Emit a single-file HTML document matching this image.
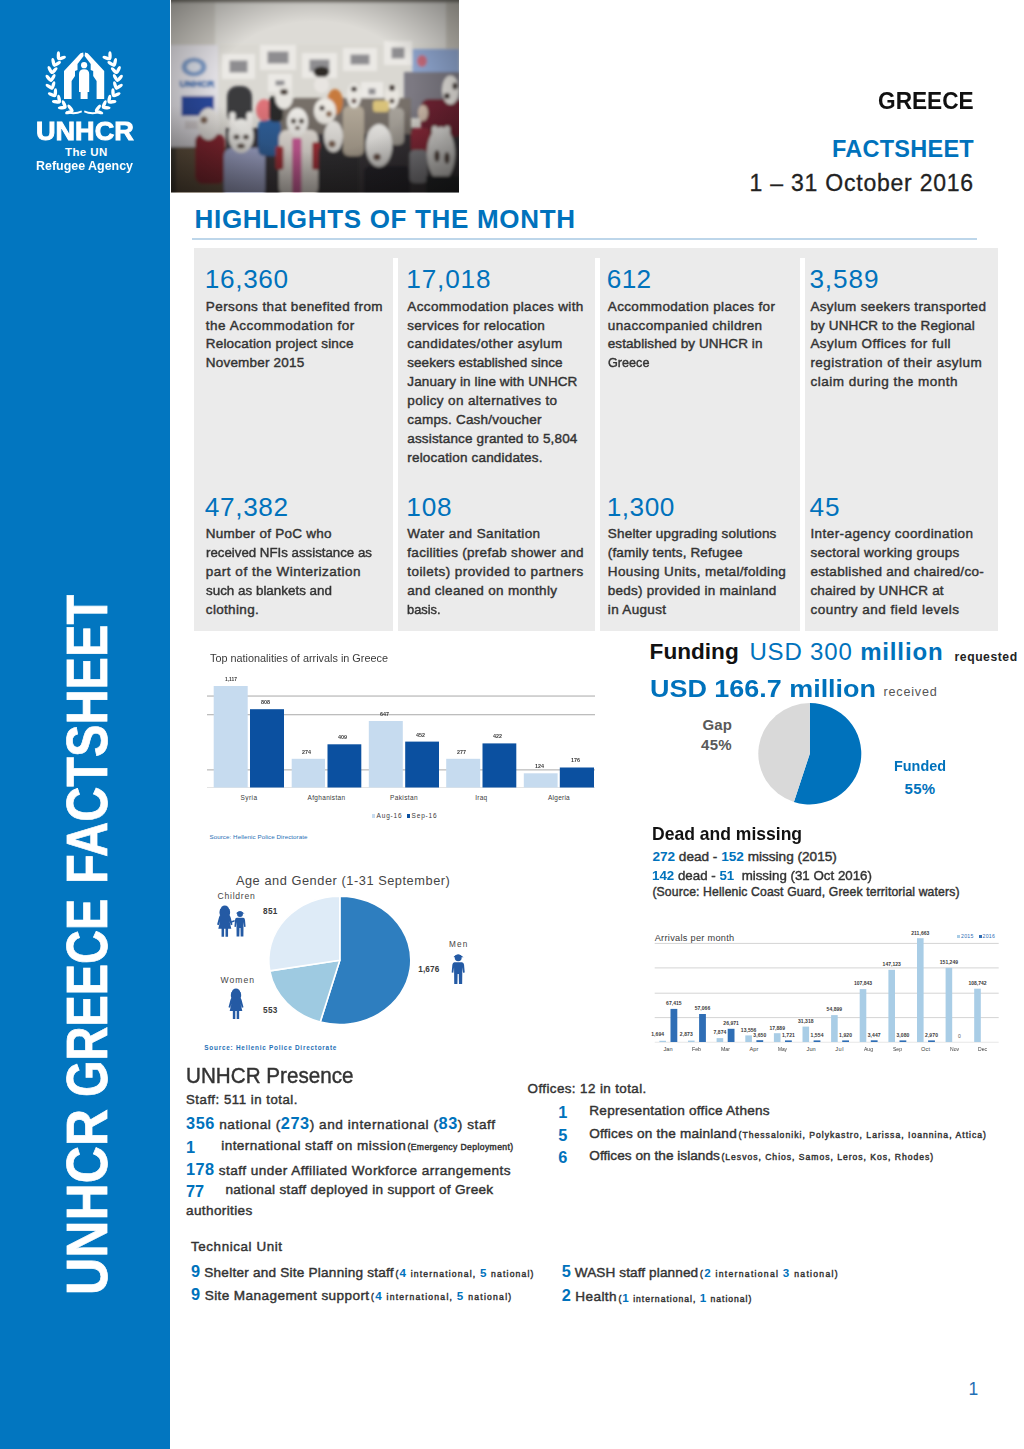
<!DOCTYPE html>
<html lang="en">
<head>
<meta charset="utf-8">
<title>UNHCR Greece Factsheet</title>
<style>
html,body{margin:0;padding:0;background:#fff;}
body{width:1024px;height:1449px;overflow:hidden;font-family:"Liberation Sans",sans-serif;color:#222;}
#pg{position:relative;width:1024px;height:1449px;overflow:hidden;background:#fff;}
.t{position:absolute;white-space:pre;line-height:1;transform-origin:0 50%;}
.b{position:absolute;}
.n{color:#0072bc;font-weight:700;-webkit-text-stroke:0;}
.k{-webkit-text-stroke:0.42px;}
.s{font-size:0.62em;}
svg{position:absolute;overflow:visible;}
</style>
</head>
<body>
<div id="pg">
<div class="b" style="left:0;top:0;width:170px;height:1449px;background:#0276c0"></div>
<div class="b" style="left:108.2px;top:1294.5px;width:0;height:0;transform-origin:0 0;transform:rotate(-90deg) scaleX(0.912);white-space:pre;font-weight:700;font-size:56.5px;line-height:1;color:#fff;-webkit-text-stroke:0.7px #fff;"><span style="position:relative;top:-47.8px;">UNHCR</span></div>
<div class="b" style="left:108.2px;top:1096.5px;width:0;height:0;transform-origin:0 0;transform:rotate(-90deg) scaleX(0.831);white-space:pre;font-weight:700;font-size:56.5px;line-height:1;color:#fff;-webkit-text-stroke:0.7px #fff;"><span style="position:relative;top:-47.8px;">GREECE</span></div>
<div class="b" style="left:108.2px;top:883.5px;width:0;height:0;transform-origin:0 0;transform:rotate(-90deg) scaleX(0.861);white-space:pre;font-weight:700;font-size:56.5px;line-height:1;color:#fff;-webkit-text-stroke:0.7px #fff;"><span style="position:relative;top:-47.8px;">FACTSHEET</span></div>
<div class="b" style="left:192.4px;top:237.6px;width:785px;height:2px;background:#bdd6ea"></div>
<div class="b" style="left:193.8px;top:248.4px;width:804.2px;height:383px;background:#ebebeb"></div>
<div class="b" style="left:393px;top:258px;width:5px;height:374px;background:#fff"></div>
<div class="b" style="left:595px;top:258px;width:5px;height:374px;background:#fff"></div>
<div class="b" style="left:800px;top:258px;width:5px;height:374px;background:#fff"></div>
<svg style="left:0;top:0" width="170" height="180" viewBox="0 0 170 180"><g fill="#fff"><g><ellipse cx="69.3" cy="112.1" rx="4.3" ry="1.7" transform="rotate(-198 69.3 112.1)"/><ellipse cx="70.5" cy="108.2" rx="4.3" ry="1.7" transform="rotate(-128 70.5 108.2)"/><ellipse cx="62.1" cy="107.8" rx="4.3" ry="1.7" transform="rotate(-184 62.1 107.8)"/><ellipse cx="64.2" cy="104.2" rx="4.3" ry="1.7" transform="rotate(-114 64.2 104.2)"/><ellipse cx="56.2" cy="101.8" rx="4.3" ry="1.7" transform="rotate(-171 56.2 101.8)"/><ellipse cx="59.1" cy="98.9" rx="4.3" ry="1.7" transform="rotate(-101 59.1 98.9)"/><ellipse cx="51.9" cy="94.7" rx="4.3" ry="1.7" transform="rotate(-157 51.9 94.7)"/><ellipse cx="55.4" cy="92.5" rx="4.3" ry="1.7" transform="rotate(-87 55.4 92.5)"/><ellipse cx="49.3" cy="86.7" rx="4.3" ry="1.7" transform="rotate(-144 49.3 86.7)"/><ellipse cx="53.2" cy="85.4" rx="4.3" ry="1.7" transform="rotate(-74 53.2 85.4)"/><ellipse cx="48.7" cy="78.3" rx="4.3" ry="1.7" transform="rotate(-130 48.7 78.3)"/><ellipse cx="52.8" cy="78.0" rx="4.3" ry="1.7" transform="rotate(-60 52.8 78.0)"/><ellipse cx="50.1" cy="70.1" rx="4.3" ry="1.7" transform="rotate(-116 50.1 70.1)"/><ellipse cx="54.2" cy="70.7" rx="4.3" ry="1.7" transform="rotate(-46 54.2 70.7)"/><ellipse cx="53.4" cy="62.3" rx="4.3" ry="1.7" transform="rotate(-103 53.4 62.3)"/><ellipse cx="57.2" cy="63.9" rx="4.3" ry="1.7" transform="rotate(-33 57.2 63.9)"/><ellipse cx="58.4" cy="55.6" rx="4.3" ry="1.7" transform="rotate(-89 58.4 55.6)"/><ellipse cx="61.8" cy="58.1" rx="4.3" ry="1.7" transform="rotate(-19 61.8 58.1)"/></g><g transform="translate(168.4 0) scale(-1 1)"><ellipse cx="69.3" cy="112.1" rx="4.3" ry="1.7" transform="rotate(-198 69.3 112.1)"/><ellipse cx="70.5" cy="108.2" rx="4.3" ry="1.7" transform="rotate(-128 70.5 108.2)"/><ellipse cx="62.1" cy="107.8" rx="4.3" ry="1.7" transform="rotate(-184 62.1 107.8)"/><ellipse cx="64.2" cy="104.2" rx="4.3" ry="1.7" transform="rotate(-114 64.2 104.2)"/><ellipse cx="56.2" cy="101.8" rx="4.3" ry="1.7" transform="rotate(-171 56.2 101.8)"/><ellipse cx="59.1" cy="98.9" rx="4.3" ry="1.7" transform="rotate(-101 59.1 98.9)"/><ellipse cx="51.9" cy="94.7" rx="4.3" ry="1.7" transform="rotate(-157 51.9 94.7)"/><ellipse cx="55.4" cy="92.5" rx="4.3" ry="1.7" transform="rotate(-87 55.4 92.5)"/><ellipse cx="49.3" cy="86.7" rx="4.3" ry="1.7" transform="rotate(-144 49.3 86.7)"/><ellipse cx="53.2" cy="85.4" rx="4.3" ry="1.7" transform="rotate(-74 53.2 85.4)"/><ellipse cx="48.7" cy="78.3" rx="4.3" ry="1.7" transform="rotate(-130 48.7 78.3)"/><ellipse cx="52.8" cy="78.0" rx="4.3" ry="1.7" transform="rotate(-60 52.8 78.0)"/><ellipse cx="50.1" cy="70.1" rx="4.3" ry="1.7" transform="rotate(-116 50.1 70.1)"/><ellipse cx="54.2" cy="70.7" rx="4.3" ry="1.7" transform="rotate(-46 54.2 70.7)"/><ellipse cx="53.4" cy="62.3" rx="4.3" ry="1.7" transform="rotate(-103 53.4 62.3)"/><ellipse cx="57.2" cy="63.9" rx="4.3" ry="1.7" transform="rotate(-33 57.2 63.9)"/><ellipse cx="58.4" cy="55.6" rx="4.3" ry="1.7" transform="rotate(-89 58.4 55.6)"/><ellipse cx="61.8" cy="58.1" rx="4.3" ry="1.7" transform="rotate(-19 61.8 58.1)"/></g><path d="M66 111.2 Q75 113.6 81.5 110.6 L82 112.2 Q75 115.6 65.6 113 Z"/><path d="M100 111.2 Q91 113.6 84.5 110.6 L84 112.2 Q91 115.6 100.4 113 Z"/><path d="M64 99 L64 71 L80.5 53.2 L83.2 52.6 L83.6 56 L77.5 64 L77.5 70 L75 71 L75 76 L71.6 81 L71.6 99 Z"/><path d="M104.2 99 L104.2 71 L87.7 53.2 L85 52.6 L84.6 56 L90.7 64 L90.7 70 L93.2 71 L93.2 76 L96.6 81 L96.6 99 Z"/><circle cx="84.1" cy="65.2" r="3.1"/><path d="M79 74 Q79 69.3 84.1 69.3 Q89.2 69.3 89.2 74 L89.2 92 L87.6 92 L87.6 99 L80.6 99 L80.6 92 L79 92 Z"/></g></svg>
<svg style="left:171px;top:0" width="288" height="192.4" viewBox="0 0 288 192.4"><defs><filter id="bl" x="-5%" y="-5%" width="110%" height="110%"><feGaussianBlur stdDeviation="1.5"/></filter><clipPath id="pc"><rect width="288" height="192.4"/></clipPath><radialGradient id="vg" cx="50%" cy="45%" r="75%"><stop offset="0.45" stop-color="#000" stop-opacity="0"/><stop offset="1" stop-color="#000" stop-opacity="0.5"/></radialGradient><linearGradient id="lg" x1="0" y1="0" x2="0" y2="1"><stop offset="0.55" stop-color="#1a1410" stop-opacity="0"/><stop offset="1" stop-color="#1a1410" stop-opacity="0.38"/></linearGradient></defs><g clip-path="url(#pc)"><rect width="288" height="192.4" fill="#dad8d2"/><g filter="url(#bl)"><rect x="-5" y="-6" width="300" height="8.5" fill="#7d7972" rx="0"/><rect x="-5" y="3" width="50" height="43" fill="#cdcac3" rx="0"/><rect x="44" y="3" width="250" height="42" fill="#dddbd6" rx="0"/><rect x="275" y="3" width="20" height="46" fill="#c6c2b9" rx="0"/><rect x="-3" y="45" width="50" height="104" fill="#e2e0e5" rx="0"/><ellipse cx="23" cy="67" rx="12.5" ry="9.5" fill="#7f9cc6"/><ellipse cx="23" cy="67" rx="7" ry="5" fill="#d9dde6"/><text x="8.5" y="87.2" font-size="9.6" font-weight="700" fill="#3f6fae" stroke="#3f6fae" stroke-width="0.6" textLength="35" lengthAdjust="spacingAndGlyphs" font-family="Liberation Sans, sans-serif">UNHCR</text><rect x="10.5" y="96" width="32.5" height="20" fill="#2a4a9c" rx="0"/><rect x="14" y="121" width="22" height="8" fill="#cfc9cb" rx="0"/><rect x="-3" y="147" width="64" height="50" fill="#6d5c47" rx="0"/><rect x="-3" y="147" width="8" height="50" fill="#4a4238" rx="0"/><rect x="58" y="184" width="300" height="15" fill="#2c2a2b" rx="0"/><rect x="51" y="54" width="33" height="25" fill="#ebe9e5" rx="0"/><rect x="58.5" y="60.5" width="18" height="12" fill="#8e8d90" rx="0"/><rect x="89" y="45" width="36" height="25" fill="#ebe9e5" rx="0"/><rect x="96.5" y="51.5" width="21" height="12" fill="#8e8d90" rx="0"/><rect x="131" y="53" width="35" height="25" fill="#ebe9e5" rx="0"/><rect x="138.5" y="59.5" width="20" height="12" fill="#8e8d90" rx="0"/><rect x="172" y="48" width="34" height="23" fill="#ebe9e5" rx="0"/><rect x="179.5" y="54.5" width="19" height="10" fill="#8e8d90" rx="0"/><rect x="213" y="41" width="28" height="24" fill="#ebe9e5" rx="0"/><rect x="220.5" y="47.5" width="13" height="11" fill="#8e8d90" rx="0"/><rect x="190" y="82" width="22" height="19" fill="#ebe9e5" rx="0"/><rect x="197.5" y="88.5" width="7" height="6" fill="#8e8d90" rx="0"/><rect x="97" y="74" width="24" height="18" fill="#ebe9e5" rx="0"/><rect x="104.5" y="80.5" width="9" height="5" fill="#8e8d90" rx="0"/><rect x="241.5" y="49" width="47" height="23" fill="#8fa6cf" rx="0"/><ellipse cx="251" cy="61" rx="5" ry="6" fill="#c56a7a"/><rect x="233" y="72" width="56" height="46" fill="#7b7982" rx="0"/><rect x="55" y="128" width="235" height="70" fill="#38363a" rx="0"/><rect x="100" y="98" width="140" height="36" fill="#777069" rx="0"/><rect x="24" y="134" width="30" height="50" fill="#8a2530" rx="8"/><ellipse cx="37.5" cy="124" rx="11" ry="16" fill="#e2dfdb"/><ellipse cx="33" cy="120" rx="3.5" ry="3.5" fill="#7a6050"/><rect x="53" y="148" width="41" height="50" fill="#a9b0d8" rx="8"/><rect x="56" y="86" width="25" height="38" fill="#3b3a3c" rx="10"/><ellipse cx="70" cy="136" rx="12.5" ry="17" fill="#eeede9"/><rect x="58.5" y="112" width="6" height="16" fill="#eceae6" rx="3"/><rect x="75.5" y="112" width="6" height="16" fill="#eceae6" rx="3"/><ellipse cx="65.5" cy="137" rx="3" ry="2.5" fill="#4a3c36"/><ellipse cx="75" cy="137" rx="3" ry="2.5" fill="#4a3c36"/><ellipse cx="70" cy="146" rx="4" ry="2.5" fill="#5a4a40"/><rect x="87" y="120" width="23" height="36" fill="#2f5f9a" rx="6"/><ellipse cx="93" cy="110" rx="8" ry="11" fill="#dd7278"/><rect x="98" y="96" width="14" height="26" fill="#2b2a2a" rx="5"/><ellipse cx="113" cy="97" rx="9" ry="12" fill="#e6e4df"/><ellipse cx="113" cy="92" rx="4" ry="3" fill="#4a4038"/><rect x="108" y="130" width="39" height="66" fill="#e7e2dc" rx="8"/><rect x="104.5" y="146" width="8" height="24" fill="#a32f38" rx="3"/><rect x="141" y="142" width="8" height="28" fill="#a32f38" rx="3"/><rect x="121" y="138" width="9.5" height="56" fill="#cf5c9c" rx="2"/><ellipse cx="126.5" cy="122" rx="10.5" ry="14" fill="#efede9"/><ellipse cx="122.5" cy="121" rx="2.6" ry="2.6" fill="#4a4038"/><ellipse cx="130.5" cy="121" rx="2.6" ry="2.6" fill="#4a4038"/><ellipse cx="126.5" cy="128" rx="2.5" ry="2" fill="#5a4a40"/><ellipse cx="150.5" cy="72" rx="8" ry="5.5" fill="#2e2a28"/><ellipse cx="150.5" cy="85" rx="7.5" ry="8" fill="#e8e5e1"/><ellipse cx="164" cy="102" rx="8" ry="13" fill="#c77a3e"/><ellipse cx="154" cy="111" rx="11" ry="13" fill="#ebe8e2"/><ellipse cx="151" cy="108" rx="2.6" ry="2.6" fill="#3c332e"/><ellipse cx="158" cy="114" rx="3" ry="3" fill="#8a6a50"/><rect x="147.5" y="144" width="40" height="55" fill="#2e2f33" rx="8"/><ellipse cx="162.5" cy="136.5" rx="9.5" ry="15.5" fill="#ebe9e5"/><ellipse cx="161" cy="144" rx="3.6" ry="3.6" fill="#7a5e4e"/><rect x="172" y="106" width="21" height="50" fill="#b3a999" rx="6"/><ellipse cx="183" cy="95.5" rx="7.2" ry="12.5" fill="#e9e7e2"/><ellipse cx="183" cy="89" rx="3" ry="2.6" fill="#3c332e"/><ellipse cx="183" cy="101" rx="2.5" ry="2.5" fill="#5a4038"/><rect x="193" y="166" width="46" height="32" fill="#20232a" rx="6"/><rect x="218" y="108" width="15" height="37" fill="#a9a49c" rx="5"/><ellipse cx="208" cy="145.5" rx="13.2" ry="21.5" fill="#f1f0ed"/><ellipse cx="206" cy="157" rx="3.8" ry="3.6" fill="#6a5044"/><ellipse cx="221" cy="96.5" rx="7.2" ry="12" fill="#e8e5df"/><ellipse cx="221" cy="88" rx="3" ry="3" fill="#3c332e"/><ellipse cx="221" cy="101" rx="2.5" ry="2.5" fill="#4a3a32"/><rect x="202" y="100.6" width="16" height="11.5" fill="#d9c27a" rx="3"/><rect x="250" y="99" width="42" height="38" fill="#6e2430" rx="8"/><ellipse cx="279.5" cy="90" rx="8.5" ry="14.5" fill="#e6e3de"/><ellipse cx="276" cy="96" rx="3" ry="3" fill="#3c332e"/><ellipse cx="284" cy="86" rx="2.6" ry="3.6" fill="#3c332e"/><rect x="240" y="128" width="19" height="25" fill="#8e2a3a" rx="5"/><rect x="238.6" y="150" width="18" height="33" fill="#8c8c92" rx="5"/><ellipse cx="252" cy="113" rx="5" ry="8" fill="#cdb9a9"/><ellipse cx="270" cy="154" rx="14" ry="27" fill="#efeeeb"/><ellipse cx="266" cy="156" rx="2.8" ry="6" fill="#5a4a40"/><ellipse cx="276" cy="158" rx="2.8" ry="6" fill="#5a4a40"/><rect x="261" y="126" width="5.5" height="16" fill="#ecebe7" rx="2.5"/><rect x="273.5" y="126" width="5.5" height="16" fill="#ecebe7" rx="2.5"/><rect x="255" y="176" width="35" height="25" fill="#24262c" rx="0"/></g><rect width="288" height="192.4" fill="url(#lg)"/><rect width="288" height="192.4" fill="url(#vg)"/></g></svg>
<svg style="left:0;top:0" width="1024" height="1449" viewBox="0 0 1024 1449"><rect x="207" y="695.4" width="388" height="1.3" fill="#bdbdbd"/><rect x="207" y="714.0" width="388" height="1.3" fill="#bdbdbd"/><rect x="207" y="769.1999999999999" width="388" height="1.3" fill="#bdbdbd"/><rect x="207" y="787" width="388" height="1" fill="#e4e4e4"/><rect x="213.7" y="686" width="34.0" height="101.5" fill="#c6dbef"/><rect x="250" y="709.2" width="34.0" height="78.3" fill="#0b50a0"/><rect x="291.7" y="758.8" width="33.3" height="28.7" fill="#c6dbef"/><rect x="327.5" y="744.3" width="33.8" height="43.2" fill="#0b50a0"/><rect x="368.8" y="721" width="34.0" height="66.5" fill="#c6dbef"/><rect x="405.2" y="741.6" width="33.8" height="45.9" fill="#0b50a0"/><rect x="446.2" y="758.8" width="34.0" height="28.7" fill="#c6dbef"/><rect x="482.5" y="743.4" width="33.8" height="44.1" fill="#0b50a0"/><rect x="523.8" y="773.3" width="33.8" height="14.2" fill="#c6dbef"/><rect x="559.8" y="767.5" width="34.2" height="20.0" fill="#0b50a0"/></svg>
<div class="b" style="left:371.5px;top:814px;width:3.5px;height:3.5px;background:#c6dbef"></div><div class="b" style="left:406.5px;top:814px;width:3.5px;height:3.5px;background:#0b50a0"></div>
<svg style="left:0;top:0" width="1024" height="1449" viewBox="0 0 1024 1449"><path d="M809.8 753.7 L809.80 703.00 A51.5 50.7 0 1 1 793.89 801.92 Z" fill="#0072bc"/><path d="M809.8 753.7 L793.89 801.92 A51.5 50.7 0 0 1 809.80 703.00 Z" fill="#d9d9d9"/></svg>
<svg style="left:0;top:0" width="1024" height="1449" viewBox="0 0 1024 1449"><path d="M339.8 960.3 L339.80 896.10 A71 64.2 0 1 1 320.23 1022.01 Z" fill="#2e7ebf" stroke="#fff" stroke-width="1.6" stroke-linejoin="round"/><path d="M339.8 960.3 L320.23 1022.01 A71 64.2 0 0 1 269.77 970.90 Z" fill="#9ecae1" stroke="#fff" stroke-width="1.6" stroke-linejoin="round"/><path d="M339.8 960.3 L269.77 970.90 A71 64.2 0 0 1 339.80 896.10 Z" fill="#deebf7" stroke="#fff" stroke-width="1.6" stroke-linejoin="round"/><g transform="translate(224.8 905.3) scale(1.016)" fill="#245aa4"><circle cx="0" cy="4.4" r="4.3"/><path d="M-4.6 3.6 Q-6 8 -4.4 10 L4.4 10 Q6 8 4.6 3.6 Z"/><path d="M-3.4 9 L3.4 9 Q5 9.4 5.6 11.5 L7.6 19 L6 19.6 L4.6 15.5 L6.4 23 L3.2 23 L3.2 31 L0.7 31 L0.7 23 L-0.7 23 L-0.7 31 L-3.2 31 L-3.2 23 L-6.4 23 L-4.6 15.5 L-6 19.6 L-7.6 19 L-5.6 11.5 Q-5 9.4 -3.4 9 Z"/></g><g transform="translate(240 910.2) scale(0.848)" fill="#245aa4"><circle cx="0" cy="4.6" r="3.5"/><path d="M-4.4 3.2 Q0 -0.6 4.4 3.2 L5.4 3.9 L-4.4 3.9 Z"/><path d="M-3.8 9 L3.8 9 Q5.6 9.2 5.9 11.5 L6.6 19.5 L4.9 19.7 L4.2 14 L4 31 L0.8 31 L0.6 21 L-0.6 21 L-0.8 31 L-4 31 L-4.2 14 L-4.9 19.7 L-6.6 19.5 L-5.9 11.5 Q-5.6 9.2 -3.8 9 Z"/></g><path d="M230.5 921.5 L234.5 920 L234.8 921.6 L231 923 Z" fill="#245aa4"/><g transform="translate(236 988.4) scale(0.987)" fill="#245aa4"><circle cx="0" cy="4.4" r="4.3"/><path d="M-4.6 3.6 Q-6 8 -4.4 10 L4.4 10 Q6 8 4.6 3.6 Z"/><path d="M-3.4 9 L3.4 9 Q5 9.4 5.6 11.5 L7.6 19 L6 19.6 L4.6 15.5 L6.4 23 L3.2 23 L3.2 31 L0.7 31 L0.7 23 L-0.7 23 L-0.7 31 L-3.2 31 L-3.2 23 L-6.4 23 L-4.6 15.5 L-6 19.6 L-7.6 19 L-5.6 11.5 Q-5 9.4 -3.4 9 Z"/></g><g transform="translate(458.2 953.3) scale(0.990)" fill="#245aa4"><circle cx="0" cy="4.6" r="3.5"/><path d="M-4.4 3.2 Q0 -0.6 4.4 3.2 L5.4 3.9 L-4.4 3.9 Z"/><path d="M-3.8 9 L3.8 9 Q5.6 9.2 5.9 11.5 L6.6 19.5 L4.9 19.7 L4.2 14 L4 31 L0.8 31 L0.6 21 L-0.6 21 L-0.8 31 L-4 31 L-4.2 14 L-4.9 19.7 L-6.6 19.5 L-5.9 11.5 Q-5.6 9.2 -3.8 9 Z"/></g></svg>
<svg style="left:0;top:0" width="1024" height="1449" viewBox="0 0 1024 1449"><rect x="654.7" y="942.9" width="344" height="1" fill="#d4d4d4"/><rect x="654.7" y="967.4" width="344" height="1" fill="#d4d4d4"/><rect x="654.7" y="992.7" width="344" height="1" fill="#d4d4d4"/><rect x="654.7" y="1017.1" width="344" height="1" fill="#d4d4d4"/><rect x="654.7" y="1041.8" width="344" height="0.8" fill="#e2e2e2"/><rect x="659.4" y="1040.8" width="6.6" height="1.2" fill="#a9cde6"/><rect x="670.5" y="1008.9" width="6.8" height="33.1" fill="#2f6eb5"/><rect x="688.0" y="1040.6" width="6.6" height="1.4" fill="#a9cde6"/><rect x="699.1" y="1014.0" width="6.8" height="28.0" fill="#2f6eb5"/><rect x="716.6" y="1038.1" width="6.6" height="3.9" fill="#a9cde6"/><rect x="727.7" y="1028.8" width="6.8" height="13.2" fill="#2f6eb5"/><rect x="745.3" y="1035.4" width="6.6" height="6.6" fill="#a9cde6"/><rect x="756.4" y="1040.2" width="6.8" height="1.8" fill="#2f6eb5"/><rect x="773.9" y="1033.2" width="6.6" height="8.8" fill="#a9cde6"/><rect x="785.0" y="1040.4" width="6.8" height="1.6" fill="#2f6eb5"/><rect x="802.5" y="1026.6" width="6.6" height="15.4" fill="#a9cde6"/><rect x="813.6" y="1040.4" width="6.8" height="1.6" fill="#2f6eb5"/><rect x="831.1" y="1015.1" width="6.6" height="26.9" fill="#a9cde6"/><rect x="842.2" y="1040.4" width="6.8" height="1.6" fill="#2f6eb5"/><rect x="859.7" y="989.1" width="6.6" height="52.9" fill="#a9cde6"/><rect x="870.8" y="1040.3" width="6.8" height="1.7" fill="#2f6eb5"/><rect x="888.4" y="969.8" width="6.6" height="72.2" fill="#a9cde6"/><rect x="899.5" y="1040.4" width="6.8" height="1.6" fill="#2f6eb5"/><rect x="917.0" y="938.2" width="6.6" height="103.8" fill="#a9cde6"/><rect x="928.1" y="1040.4" width="6.8" height="1.6" fill="#2f6eb5"/><rect x="945.6" y="967.8" width="6.6" height="74.2" fill="#a9cde6"/><rect x="974.2" y="988.7" width="6.6" height="53.3" fill="#a9cde6"/></svg>
<div class="b" style="left:957px;top:934.8px;width:3px;height:3px;background:#a9cde6"></div><div class="b" style="left:978.5px;top:934.8px;width:3px;height:3px;background:#2f6eb5"></div>
<div class="t" style="left:878.4px;top:90.1px;font-size:23.7px;font-weight:700;color:#111;transform:scaleX(0.957);">GREECE</div>
<div class="t" style="left:832.0px;top:138.1px;font-size:23.5px;font-weight:700;color:#0072bc;letter-spacing:0.25px;">FACTSHEET</div>
<div class="t" style="left:749.6px;top:172.0px;font-size:23px;letter-spacing:0.77px;-webkit-text-stroke:0.3px;">1 – 31 October 2016</div>
<div class="t" style="left:194.6px;top:206.3px;font-size:26px;font-weight:700;color:#0072bc;letter-spacing:0.68px;">HIGHLIGHTS OF THE MONTH</div>
<div class="t" style="left:35.9px;top:118.9px;font-size:25.4px;font-weight:700;color:#fff;transform:scaleX(1.066);-webkit-text-stroke:0.9px #fff;">UNHCR</div>
<div class="t" style="left:65.0px;top:146.5px;font-size:11.5px;font-weight:700;color:#fff;letter-spacing:0.39px;">The UN</div>
<div class="t" style="left:36.0px;top:160.2px;font-size:12.5px;font-weight:700;color:#fff;transform:scaleX(0.995);">Refugee Agency</div>
<div class="t" style="left:204.8px;top:265.8px;font-size:26.2px;color:#0072bc;letter-spacing:0.65px;">16,360</div>
<div class="t k" style="left:205.8px;top:299.6px;font-size:13.5px;color:#333;letter-spacing:0.42px;">Persons that benefited from</div>
<div class="t k" style="left:205.8px;top:318.5px;font-size:13.5px;color:#333;letter-spacing:0.52px;">the Accommodation for</div>
<div class="t k" style="left:205.8px;top:337.4px;font-size:13.5px;color:#333;letter-spacing:0.19px;">Relocation project since</div>
<div class="t k" style="left:205.8px;top:356.3px;font-size:13.5px;color:#333;letter-spacing:0.20px;">November 2015</div>
<div class="t" style="left:406.3px;top:265.8px;font-size:26.2px;color:#0072bc;letter-spacing:0.82px;">17,018</div>
<div class="t k" style="left:407.3px;top:299.6px;font-size:13.5px;color:#333;letter-spacing:0.36px;">Accommodation places with</div>
<div class="t k" style="left:407.3px;top:318.5px;font-size:13.5px;color:#333;letter-spacing:0.28px;">services for relocation</div>
<div class="t k" style="left:407.3px;top:337.4px;font-size:13.5px;color:#333;letter-spacing:0.39px;">candidates/other asylum</div>
<div class="t k" style="left:407.3px;top:356.3px;font-size:13.5px;color:#333;letter-spacing:0.03px;">seekers established since</div>
<div class="t k" style="left:407.3px;top:375.2px;font-size:13.5px;color:#333;letter-spacing:0.11px;">January in line with UNHCR</div>
<div class="t k" style="left:407.3px;top:394.1px;font-size:13.5px;color:#333;letter-spacing:0.36px;">policy on alternatives to</div>
<div class="t k" style="left:407.3px;top:413.0px;font-size:13.5px;color:#333;letter-spacing:0.20px;">camps. Cash/voucher</div>
<div class="t k" style="left:407.3px;top:431.9px;font-size:13.5px;color:#333;letter-spacing:0.16px;">assistance granted to 5,804</div>
<div class="t k" style="left:407.3px;top:450.8px;font-size:13.5px;color:#333;letter-spacing:0.18px;">relocation candidates.</div>
<div class="t" style="left:606.8px;top:265.8px;font-size:26.2px;color:#0072bc;letter-spacing:0.27px;">612</div>
<div class="t k" style="left:607.8px;top:299.6px;font-size:13.5px;color:#333;letter-spacing:0.35px;">Accommodation places for</div>
<div class="t k" style="left:607.8px;top:318.5px;font-size:13.5px;color:#333;letter-spacing:0.38px;">unaccompanied children</div>
<div class="t k" style="left:607.8px;top:337.4px;font-size:13.5px;color:#333;letter-spacing:0.07px;">established by UNHCR in</div>
<div class="t k" style="left:607.8px;top:356.3px;font-size:13.5px;color:#333;transform:scaleX(0.937);">Greece</div>
<div class="t" style="left:809.4px;top:265.8px;font-size:26.2px;color:#0072bc;letter-spacing:0.89px;">3,589</div>
<div class="t k" style="left:810.4px;top:299.6px;font-size:13.5px;color:#333;letter-spacing:0.33px;">Asylum seekers transported</div>
<div class="t k" style="left:810.4px;top:318.5px;font-size:13.5px;color:#333;letter-spacing:0.13px;">by UNHCR to the Regional</div>
<div class="t k" style="left:810.4px;top:337.4px;font-size:13.5px;color:#333;letter-spacing:0.45px;">Asylum Offices for full</div>
<div class="t k" style="left:810.4px;top:356.3px;font-size:13.5px;color:#333;letter-spacing:0.48px;">registration of their asylum</div>
<div class="t k" style="left:810.4px;top:375.2px;font-size:13.5px;color:#333;letter-spacing:0.50px;">claim during the month</div>
<div class="t" style="left:204.8px;top:494.2px;font-size:26.2px;color:#0072bc;letter-spacing:0.65px;">47,382</div>
<div class="t k" style="left:205.8px;top:527.1px;font-size:13.5px;color:#333;letter-spacing:0.26px;">Number of PoC who</div>
<div class="t k" style="left:205.8px;top:546.0px;font-size:13.5px;color:#333;transform:scaleX(0.983);">received NFIs assistance as</div>
<div class="t k" style="left:205.8px;top:564.9px;font-size:13.5px;color:#333;letter-spacing:0.51px;">part of the Winterization</div>
<div class="t k" style="left:205.8px;top:583.8px;font-size:13.5px;color:#333;transform:scaleX(0.993);">such as blankets and</div>
<div class="t k" style="left:205.8px;top:602.7px;font-size:13.5px;color:#333;letter-spacing:0.33px;">clothing.</div>
<div class="t" style="left:406.3px;top:494.2px;font-size:26.2px;color:#0072bc;letter-spacing:0.77px;">108</div>
<div class="t k" style="left:407.3px;top:527.1px;font-size:13.5px;color:#333;letter-spacing:0.38px;">Water and Sanitation</div>
<div class="t k" style="left:407.3px;top:546.0px;font-size:13.5px;color:#333;letter-spacing:0.29px;">facilities (prefab shower and</div>
<div class="t k" style="left:407.3px;top:564.9px;font-size:13.5px;color:#333;letter-spacing:0.44px;">toilets) provided to partners</div>
<div class="t k" style="left:407.3px;top:583.8px;font-size:13.5px;color:#333;letter-spacing:0.30px;">and cleaned on monthly</div>
<div class="t k" style="left:407.3px;top:602.7px;font-size:13.5px;color:#333;transform:scaleX(0.952);">basis.</div>
<div class="t" style="left:606.8px;top:494.2px;font-size:26.2px;color:#0072bc;letter-spacing:0.49px;">1,300</div>
<div class="t k" style="left:607.8px;top:527.1px;font-size:13.5px;color:#333;letter-spacing:0.19px;">Shelter upgrading solutions</div>
<div class="t k" style="left:607.8px;top:546.0px;font-size:13.5px;color:#333;letter-spacing:0.16px;">(family tents, Refugee</div>
<div class="t k" style="left:607.8px;top:564.9px;font-size:13.5px;color:#333;letter-spacing:0.37px;">Housing Units, metal/folding</div>
<div class="t k" style="left:607.8px;top:583.8px;font-size:13.5px;color:#333;letter-spacing:0.25px;">beds) provided in mainland</div>
<div class="t k" style="left:607.8px;top:602.7px;font-size:13.5px;color:#333;letter-spacing:0.33px;">in August</div>
<div class="t" style="left:809.4px;top:494.2px;font-size:26.2px;color:#0072bc;letter-spacing:0.93px;">45</div>
<div class="t k" style="left:810.4px;top:527.1px;font-size:13.5px;color:#333;letter-spacing:0.43px;">Inter-agency coordination</div>
<div class="t k" style="left:810.4px;top:546.0px;font-size:13.5px;color:#333;letter-spacing:0.29px;">sectoral working groups</div>
<div class="t k" style="left:810.4px;top:564.9px;font-size:13.5px;color:#333;letter-spacing:0.32px;">established and chaired/co-</div>
<div class="t k" style="left:810.4px;top:583.8px;font-size:13.5px;color:#333;letter-spacing:0.19px;">chaired by UNHCR at</div>
<div class="t k" style="left:810.4px;top:602.7px;font-size:13.5px;color:#333;letter-spacing:0.49px;">country and field levels</div>
<div class="t" style="left:209.5px;top:651.7px;font-size:11.6px;color:#3a3a3a;transform:scaleX(0.936);">Top nationalities of arrivals in Greece</div>
<div class="t" style="left:224.7px;top:675.9px;font-size:6px;font-weight:700;color:#3a3a3a;transform:scaleX(0.817);">1,117</div>
<div class="t" style="left:261.0px;top:699.1px;font-size:6px;font-weight:700;color:#3a3a3a;transform:scaleX(0.899);">808</div>
<div class="t" style="left:302.4px;top:748.7px;font-size:6px;font-weight:700;color:#3a3a3a;transform:scaleX(0.899);">274</div>
<div class="t" style="left:338.4px;top:734.2px;font-size:6px;font-weight:700;color:#3a3a3a;transform:scaleX(0.899);">409</div>
<div class="t" style="left:379.8px;top:710.9px;font-size:6px;font-weight:700;color:#3a3a3a;transform:scaleX(0.899);">647</div>
<div class="t" style="left:416.1px;top:731.5px;font-size:6px;font-weight:700;color:#3a3a3a;transform:scaleX(0.899);">452</div>
<div class="t" style="left:457.2px;top:748.7px;font-size:6px;font-weight:700;color:#3a3a3a;transform:scaleX(0.899);">277</div>
<div class="t" style="left:493.4px;top:733.3px;font-size:6px;font-weight:700;color:#3a3a3a;transform:scaleX(0.899);">422</div>
<div class="t" style="left:534.7px;top:763.2px;font-size:6px;font-weight:700;color:#3a3a3a;transform:scaleX(0.899);">124</div>
<div class="t" style="left:570.9px;top:757.4px;font-size:6px;font-weight:700;color:#3a3a3a;transform:scaleX(0.899);">176</div>
<div class="t" style="left:240.5px;top:795.0px;font-size:6.5px;color:#3a3a3a;letter-spacing:0.44px;">Syria</div>
<div class="t" style="left:307.5px;top:795.0px;font-size:6.5px;color:#3a3a3a;letter-spacing:0.33px;">Afghanistan</div>
<div class="t" style="left:390.0px;top:795.0px;font-size:6.5px;color:#3a3a3a;letter-spacing:0.38px;">Pakistan</div>
<div class="t" style="left:475.3px;top:795.0px;font-size:6.5px;color:#3a3a3a;letter-spacing:0.20px;">Iraq</div>
<div class="t" style="left:548.0px;top:795.0px;font-size:6.5px;color:#3a3a3a;letter-spacing:0.25px;">Algeria</div>
<div class="t" style="left:376.5px;top:813.0px;font-size:6.5px;color:#3a3a3a;letter-spacing:0.84px;">Aug-16</div>
<div class="t" style="left:411.5px;top:813.0px;font-size:6.5px;color:#3a3a3a;letter-spacing:0.84px;">Sep-16</div>
<div class="t" style="left:209.5px;top:833.8px;font-size:6.2px;color:#1f6fb5;letter-spacing:0.07px;">Source: Hellenic Police Directorate</div>
<div class="t" style="left:649.6px;top:641.2px;font-size:22.6px;font-weight:700;color:#111;">Funding</div>
<div class="t" style="left:749.4px;top:640.0px;font-size:24px;color:#0072bc;letter-spacing:0.84px;">USD 300 <b>million</b></div>
<div class="t" style="left:954.6px;top:650.5px;font-size:12.2px;font-weight:700;letter-spacing:0.53px;">requested</div>
<div class="t" style="left:649.6px;top:677.0px;font-size:24px;font-weight:700;color:#0072bc;transform:scaleX(1.122);">USD 166.7 million</div>
<div class="t" style="left:883.5px;top:686.3px;font-size:12.6px;color:#555;letter-spacing:0.80px;">received</div>
<div class="t" style="left:702.5px;top:716.8px;font-size:15px;font-weight:700;color:#595959;letter-spacing:0.10px;">Gap</div>
<div class="t" style="left:701.0px;top:736.8px;font-size:15px;font-weight:700;color:#595959;letter-spacing:0.32px;">45%</div>
<div class="t" style="left:894.0px;top:758.3px;font-size:15px;font-weight:700;color:#0072bc;transform:scaleX(0.960);">Funded</div>
<div class="t" style="left:904.5px;top:781.1px;font-size:15px;font-weight:700;color:#0072bc;letter-spacing:0.32px;">55%</div>
<div class="t" style="left:652.4px;top:824.6px;font-size:18.6px;font-weight:700;color:#111;transform:scaleX(0.943);">Dead and missing</div>
<div class="t k" style="left:652.4px;top:850.0px;font-size:13.6px;color:#333;"><span class="n">272</span> dead - <span class="n">152</span> missing (2015)</div>
<div class="t k" style="left:652.4px;top:868.5px;font-size:13.6px;color:#333;transform:scaleX(0.980);"><span class="n">142</span> dead - <span class="n">51</span>  missing (31 Oct 2016)</div>
<div class="t k" style="left:652.4px;top:886.2px;font-size:12.2px;color:#333;letter-spacing:0.14px;">(Source: Hellenic Coast Guard, Greek territorial waters)</div>
<div class="t" style="left:235.9px;top:874.5px;font-size:12.8px;color:#454545;letter-spacing:0.54px;">Age and Gender (1-31 September)</div>
<div class="t" style="left:217.5px;top:891.7px;font-size:8.6px;color:#454545;letter-spacing:0.75px;">Children</div>
<div class="t" style="left:263.0px;top:908.4px;font-size:8.2px;font-weight:700;color:#3a3a3a;letter-spacing:0.34px;">851</div>
<div class="t" style="left:220.5px;top:976.2px;font-size:8.6px;color:#454545;letter-spacing:1.01px;">Women</div>
<div class="t" style="left:263.0px;top:1007.3px;font-size:8.2px;font-weight:700;color:#3a3a3a;letter-spacing:0.34px;">553</div>
<div class="t" style="left:449.0px;top:941.3px;font-size:8.2px;color:#454545;letter-spacing:1.19px;">Men</div>
<div class="t" style="left:418.3px;top:966.1px;font-size:8.2px;font-weight:700;color:#3a3a3a;letter-spacing:0.10px;">1,676</div>
<div class="t" style="left:204.3px;top:1044.6px;font-size:6.4px;font-weight:700;color:#1f6fb5;letter-spacing:0.76px;">Source: Hellenic Police Directorate</div>
<div class="t" style="left:654.7px;top:933.7px;font-size:9.2px;color:#3a3a3a;letter-spacing:0.29px;">Arrivals per month</div>
<div class="t" style="left:651.2px;top:1032.3px;font-size:5px;font-weight:700;color:#3a3a3a;letter-spacing:0.10px;">1,694</div>
<div class="t" style="left:666.1px;top:1001.2px;font-size:5px;font-weight:700;color:#3a3a3a;letter-spacing:0.05px;">67,415</div>
<div class="t" style="left:679.8px;top:1032.3px;font-size:5px;font-weight:700;color:#3a3a3a;letter-spacing:0.10px;">2,873</div>
<div class="t" style="left:694.7px;top:1006.3px;font-size:5px;font-weight:700;color:#3a3a3a;letter-spacing:0.05px;">57,066</div>
<div class="t" style="left:713.4px;top:1030.4px;font-size:5px;font-weight:700;color:#3a3a3a;letter-spacing:0.10px;">7,874</div>
<div class="t" style="left:723.3px;top:1021.0px;font-size:5px;font-weight:700;color:#3a3a3a;letter-spacing:0.05px;">26,971</div>
<div class="t" style="left:740.8px;top:1027.6px;font-size:5px;font-weight:700;color:#3a3a3a;letter-spacing:0.05px;">13,556</div>
<div class="t" style="left:753.3px;top:1032.5px;font-size:5px;font-weight:700;color:#3a3a3a;letter-spacing:0.10px;">3,650</div>
<div class="t" style="left:769.4px;top:1025.5px;font-size:5px;font-weight:700;color:#3a3a3a;letter-spacing:0.05px;">17,889</div>
<div class="t" style="left:781.9px;top:1032.7px;font-size:5px;font-weight:700;color:#3a3a3a;letter-spacing:0.10px;">1,721</div>
<div class="t" style="left:798.0px;top:1018.9px;font-size:5px;font-weight:700;color:#3a3a3a;letter-spacing:0.05px;">31,318</div>
<div class="t" style="left:810.5px;top:1032.7px;font-size:5px;font-weight:700;color:#3a3a3a;letter-spacing:0.10px;">1,554</div>
<div class="t" style="left:826.6px;top:1007.3px;font-size:5px;font-weight:700;color:#3a3a3a;letter-spacing:0.05px;">54,899</div>
<div class="t" style="left:839.1px;top:1032.7px;font-size:5px;font-weight:700;color:#3a3a3a;letter-spacing:0.10px;">1,920</div>
<div class="t" style="left:853.9px;top:981.4px;font-size:5px;font-weight:700;color:#3a3a3a;letter-spacing:0.02px;">107,843</div>
<div class="t" style="left:867.7px;top:1032.6px;font-size:5px;font-weight:700;color:#3a3a3a;letter-spacing:0.10px;">3,447</div>
<div class="t" style="left:882.6px;top:962.1px;font-size:5px;font-weight:700;color:#3a3a3a;letter-spacing:0.02px;">147,123</div>
<div class="t" style="left:896.4px;top:1032.7px;font-size:5px;font-weight:700;color:#3a3a3a;letter-spacing:0.10px;">3,080</div>
<div class="t" style="left:911.2px;top:930.5px;font-size:5px;font-weight:700;color:#3a3a3a;letter-spacing:0.06px;">211,663</div>
<div class="t" style="left:925.0px;top:1032.7px;font-size:5px;font-weight:700;color:#3a3a3a;letter-spacing:0.10px;">2,970</div>
<div class="t" style="left:939.8px;top:960.1px;font-size:5px;font-weight:700;color:#3a3a3a;letter-spacing:0.02px;">151,249</div>
<div class="t" style="left:968.4px;top:980.9px;font-size:5px;font-weight:700;color:#3a3a3a;letter-spacing:0.02px;">108,742</div>
<div class="t" style="left:957.9px;top:1033.8px;font-size:5px;color:#555;">0</div>
<div class="t" style="left:663.5px;top:1046.6px;font-size:5.6px;color:#3a3a3a;">Jan</div>
<div class="t" style="left:692.1px;top:1046.6px;font-size:5.6px;color:#3a3a3a;transform:scaleX(0.934);">Feb</div>
<div class="t" style="left:720.7px;top:1046.6px;font-size:5.6px;color:#3a3a3a;transform:scaleX(0.934);">Mar</div>
<div class="t" style="left:749.4px;top:1046.6px;font-size:5.6px;color:#3a3a3a;letter-spacing:0.09px;">Apr</div>
<div class="t" style="left:778.0px;top:1046.6px;font-size:5.6px;color:#3a3a3a;transform:scaleX(0.851);">May</div>
<div class="t" style="left:806.6px;top:1046.6px;font-size:5.6px;color:#3a3a3a;">Jun</div>
<div class="t" style="left:835.2px;top:1046.6px;font-size:5.6px;color:#3a3a3a;letter-spacing:0.61px;">Jul</div>
<div class="t" style="left:863.8px;top:1046.6px;font-size:5.6px;color:#3a3a3a;transform:scaleX(0.904);">Aug</div>
<div class="t" style="left:892.5px;top:1046.6px;font-size:5.6px;color:#3a3a3a;transform:scaleX(0.904);">Sep</div>
<div class="t" style="left:921.1px;top:1046.6px;font-size:5.6px;color:#3a3a3a;letter-spacing:0.10px;">Oct</div>
<div class="t" style="left:949.7px;top:1046.6px;font-size:5.6px;color:#3a3a3a;transform:scaleX(0.904);">Nov</div>
<div class="t" style="left:978.3px;top:1046.6px;font-size:5.6px;color:#3a3a3a;transform:scaleX(0.904);">Dec</div>
<div class="t" style="left:961.0px;top:933.9px;font-size:5.2px;color:#2f6eb5;letter-spacing:0.24px;">2015</div>
<div class="t" style="left:982.5px;top:933.9px;font-size:5.2px;color:#2f6eb5;letter-spacing:0.24px;">2016</div>
<div class="t k" style="left:186.0px;top:1065.3px;font-size:21.6px;color:#333;transform:scaleX(0.956);">UNHCR Presence</div>
<div class="t k" style="left:186.0px;top:1093.0px;font-size:13.2px;color:#333;letter-spacing:0.53px;">Staff: 511 in total.</div>
<div class="t k" style="left:186.0px;top:1114.5px;font-size:13.6px;color:#333;letter-spacing:0.56px;"><span class="n" style="font-size:1.2em;">356</span> national (<span class="n" style="font-size:1.2em;">273</span>) and international (<span class="n" style="font-size:1.2em;">83</span>) staff</div>
<div class="t k" style="left:186.0px;top:1138.5px;font-size:13.6px;color:#333;"><span class="n" style="font-size:1.2em;">1</span></div>
<div class="t k" style="left:221.2px;top:1138.5px;font-size:13.6px;color:#333;letter-spacing:0.43px;">international staff on mission</div>
<div class="t k" style="left:407.5px;top:1142.7px;font-size:8.6px;color:#333;letter-spacing:0.39px;">(Emergency Deployment)</div>
<div class="t k" style="left:186.0px;top:1160.8px;font-size:13.6px;color:#333;letter-spacing:0.45px;"><span class="n" style="font-size:1.2em;">178</span> staff under Affiliated Workforce arrangements</div>
<div class="t k" style="left:186.0px;top:1182.7px;font-size:13.6px;color:#333;"><span class="n" style="font-size:1.2em;">77</span></div>
<div class="t k" style="left:225.4px;top:1182.7px;font-size:13.6px;color:#333;letter-spacing:0.30px;">national staff deployed in support of Greek</div>
<div class="t k" style="left:186.0px;top:1204.1px;font-size:13.6px;color:#333;letter-spacing:0.36px;">authorities</div>
<div class="t k" style="left:191.0px;top:1240.2px;font-size:13.4px;color:#333;letter-spacing:0.59px;">Technical Unit</div>
<div class="t k" style="left:191.0px;top:1262.5px;font-size:13.6px;color:#333;letter-spacing:0.22px;"><span class="n" style="font-size:1.2em;">9</span> Shelter and Site Planning staff</div>
<div class="t k" style="left:395.5px;top:1266.7px;font-size:8.6px;color:#333;letter-spacing:1.17px;">(<b class="n" style="font-size:1.35em">4</b> international, <b class="n" style="font-size:1.35em">5</b> national)</div>
<div class="t k" style="left:191.0px;top:1285.5px;font-size:13.6px;color:#333;letter-spacing:0.40px;"><span class="n" style="font-size:1.2em;">9</span> Site Management support</div>
<div class="t k" style="left:371.0px;top:1289.7px;font-size:8.6px;color:#333;letter-spacing:1.25px;">(<b class="n" style="font-size:1.35em">4</b> international, <b class="n" style="font-size:1.35em">5</b> national)</div>
<div class="t k" style="left:527.6px;top:1081.5px;font-size:13.4px;color:#333;letter-spacing:0.40px;">Offices: 12 in total.</div>
<div class="t k" style="left:558.2px;top:1104.0px;font-size:13.6px;color:#333;"><span class="n" style="font-size:1.2em;">1</span></div>
<div class="t k" style="left:589.3px;top:1104.0px;font-size:13.6px;color:#333;letter-spacing:0.25px;">Representation office Athens</div>
<div class="t k" style="left:558.2px;top:1126.5px;font-size:13.6px;color:#333;"><span class="n" style="font-size:1.2em;">5</span></div>
<div class="t k" style="left:589.3px;top:1126.5px;font-size:13.6px;color:#333;letter-spacing:0.22px;">Offices on the mainland</div>
<div class="t k" style="left:738.5px;top:1130.7px;font-size:8.6px;color:#333;letter-spacing:1.02px;">(Thessaloniki, Polykastro, Larissa, Ioannina, Attica)</div>
<div class="t k" style="left:558.2px;top:1149.1px;font-size:13.6px;color:#333;"><span class="n" style="font-size:1.2em;">6</span></div>
<div class="t k" style="left:589.3px;top:1149.1px;font-size:13.6px;color:#333;letter-spacing:0.04px;">Offices on the islands</div>
<div class="t k" style="left:721.5px;top:1153.3px;font-size:8.6px;color:#333;letter-spacing:0.98px;">(Lesvos, Chios, Samos, Leros, Kos, Rhodes)</div>
<div class="t k" style="left:561.7px;top:1262.8px;font-size:13.6px;color:#333;letter-spacing:0.10px;"><span class="n" style="font-size:1.2em;">5</span> WASH staff planned</div>
<div class="t k" style="left:700.0px;top:1267.0px;font-size:8.6px;color:#333;letter-spacing:1.29px;">(<b class="n" style="font-size:1.35em">2</b> international <b class="n" style="font-size:1.35em">3</b> national)</div>
<div class="t k" style="left:561.7px;top:1287.3px;font-size:13.6px;color:#333;letter-spacing:0.39px;"><span class="n" style="font-size:1.2em;">2</span> Health</div>
<div class="t k" style="left:618.5px;top:1291.5px;font-size:8.6px;color:#333;letter-spacing:0.99px;">(<b class="n" style="font-size:1.35em">1</b> international, <b class="n" style="font-size:1.35em">1</b> national)</div>
<div class="t" style="left:968.4px;top:1381.2px;font-size:17.5px;color:#1f6fb5;">1</div>
</div>
</body>
</html>
